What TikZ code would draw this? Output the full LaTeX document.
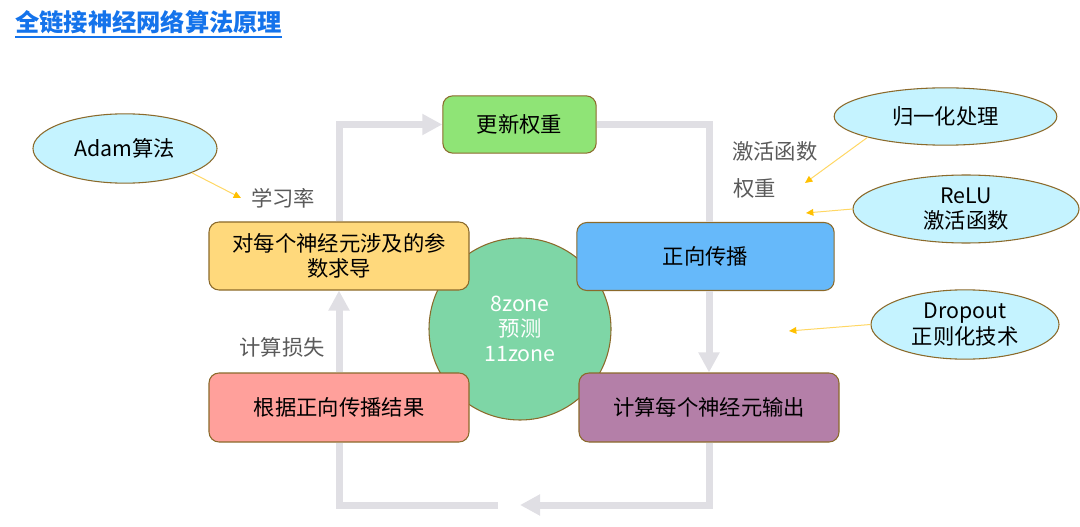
\documentclass[tikz,border=0pt]{standalone}
\usepackage{fontspec}
\setmainfont{Noto Sans CJK SC}
\usetikzlibrary{arrows.meta,shapes.geometric}
\definecolor{bordc}{RGB}{139,106,43}
\definecolor{greenc}{RGB}{143,228,118}
\definecolor{yelc}{RGB}{255,217,124}
\definecolor{bluec}{RGB}{102,185,250}
\definecolor{pinkc}{RGB}{255,160,155}
\definecolor{purc}{RGB}{180,127,168}
\definecolor{circc}{RGB}{126,214,166}
\definecolor{ellc}{RGB}{197,243,255}
\definecolor{flowc}{RGB}{224,223,228}
\definecolor{hintline}{RGB}{255,215,100}
\definecolor{hinthead}{RGB}{255,192,0}
\definecolor{labc}{RGB}{90,90,90}
\definecolor{titlec}{RGB}{20,115,235}
\begin{document}
\begin{tikzpicture}[x=0.75pt,y=-0.75pt,
  txt/.style={font=\fontsize{16}{19}\selectfont},
  box/.style={txt, draw=bordc, line width=0.8pt, rounded corners=7.5pt, inner sep=0pt, align=center, text=black},
  ell/.style={txt, ellipse, draw=bordc, fill=ellc, line width=0.8pt, inner sep=0pt, align=center, text=black},
  flowline/.style={draw=flowc, line width=5.25pt, line join=miter},
  flow/.style={flowline, -{Triangle[length=15pt,width=15pt]}},
  hint/.style={draw=hintline, line width=0.75pt, -{Triangle[length=5.5pt,width=5pt,color=hinthead]}},
  lab/.style={txt, text=labc, inner sep=0pt}
]
\useasboundingbox (0,0) rectangle (1080,527);

% title
\node[anchor=west, inner sep=0pt, text=titlec, font=\fontsize{18.2}{20}\selectfont\bfseries] (title) at (15,22) {全链接神经网络算法原理};
\draw[titlec, line width=1.5pt] (title.south west) ++(0,3) coordinate (ul1);
\draw[titlec, line width=1.5pt] ([yshift=-2pt]title.south west) -- ([yshift=-2pt]title.south east);

% centre circle
\node[circle, draw=bordc, fill=circc, line width=0.8pt, minimum size=136.5pt, inner sep=0pt, align=center, txt, text=white] (circ) at (520,329) {8zone\\预测\\11zone};

% boxes
\node[box, fill=greenc, minimum width=115pt, minimum height=43pt] (green) at (519.5,124.5) {更新权重};
\node[box, fill=yelc, minimum width=195pt, minimum height=51pt] (yel) at (339,256) {对每个神经元涉及的参\\数求导};
\node[box, fill=bluec, minimum width=193pt, minimum height=51pt] (blue) at (705.5,256.5) {正向传播};
\node[box, fill=pinkc, minimum width=195pt, minimum height=51.75pt] (pink) at (339,407.5) {根据正向传播结果};
\node[box, fill=purc, minimum width=195pt, minimum height=51.75pt] (pur) at (709,407.5) {计算每个神经元输出};

% flow arrows
\draw[flow] (yel.north) |- (green.west);
\draw[flowline] (green.east) -| (pur.north |- blue.north);
\draw[flow] (pur.north |- blue.south) -- (pur.north);
\coordinate (b1) at (520,505);
\coordinate (b2) at (498,505);
\draw[flow] (pur.south) |- (b1);
\draw[flowline] (b2) -| (pink.south);
\draw[flow] (pink.north) -- (yel.south);

% ellipses
\node[ell, minimum width=138pt, minimum height=52pt] (adam) at (125,148.5) {Adam算法};
\node[ell, minimum width=167pt, minimum height=43pt] (norm) at (945.5,116.5) {归一化处理};
\node[ell, minimum width=169.5pt, minimum height=51pt] (relu) at (966,209) {ReLU\\激活函数};
\node[ell, minimum width=141pt, minimum height=52pt] (drop) at (965,324.5) {Dropout\\正则化技术};

% labels
\node[lab] (lr) at (283,198) {学习率};
\node[lab, anchor=west] (act) at (732,151) {激活函数};
\node[lab, anchor=west] (wt) at (733,188) {权重};
\node[lab] (loss) at (282,347) {计算损失};

% hint arrows
\coordinate (t1) at (241,198);
\coordinate (t2) at (805,183);
\coordinate (t3) at (806,213);
\coordinate (t4) at (789,331);
\draw[hint] (adam.340) -- (t1);
\draw[hint] (norm.195) -- (t2);
\draw[hint] (relu.west) -- (t3);
\draw[hint] (drop.west) -- (t4);
\end{tikzpicture}
\end{document}
